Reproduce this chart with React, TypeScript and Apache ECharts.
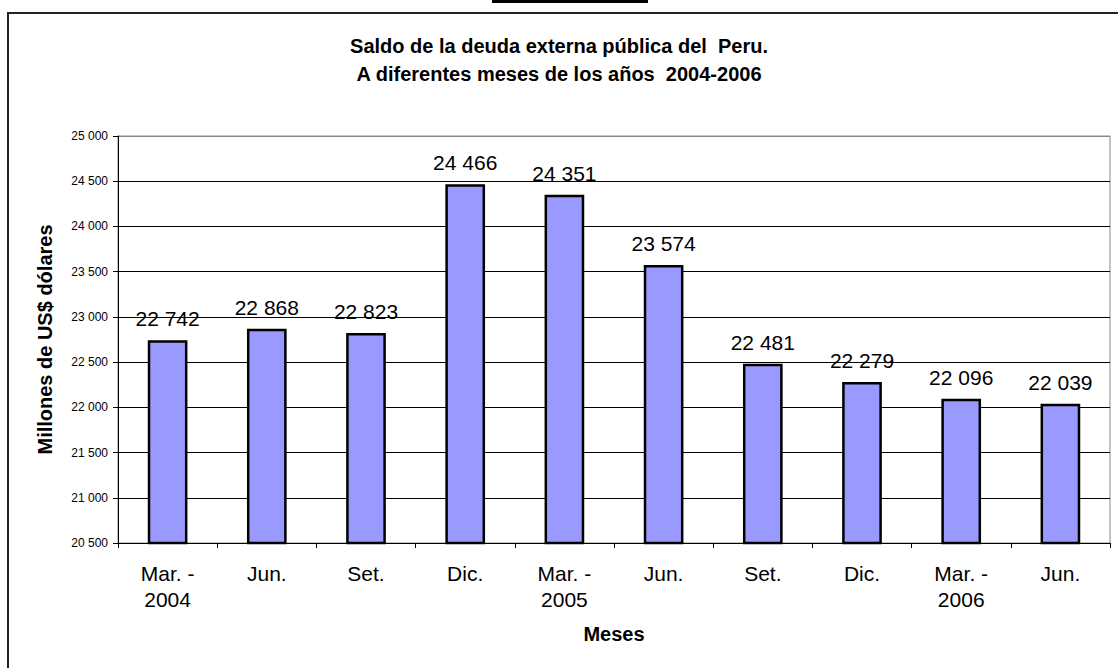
import React, { useEffect, useRef } from "react";
import * as echarts from "echarts";

const categories = [
  "Mar. -\n2004", "Jun.", "Set.", "Dic.", "Mar. -\n2005",
  "Jun.", "Set.", "Dic.", "Mar. -\n2006", "Jun.",
];
const values = [22742, 22868, 22823, 24466, 24351, 23574, 22481, 22279, 22096, 22039];
const titleLines = [
  "Saldo de la deuda externa pública del  Peru.",
  "A diferentes meses de los años  2004-2006",
];
const yName = "Millones de US$ dólares";
const xName = "Meses";

const fmt = (v: number) => String(v).replace(/\B(?=(\d{3})+(?!\d))/g, " ");

export default function App() {
  const ref = useRef<HTMLDivElement>(null);
  useEffect(() => {
    if (!ref.current) return;
    const chart = echarts.init(ref.current, null, { renderer: "svg" });
    const font = "Arial, 'Liberation Sans', sans-serif";
    chart.setOption({
      animation: false,
      backgroundColor: "#fff",
      textStyle: { fontFamily: font },
      title: {
        text: titleLines.join("\n"),
        left: "center",
        top: 27,
        textStyle: { fontFamily: font, fontSize: 20, fontWeight: "bold", color: "#000", lineHeight: 28 },
      },
      grid: { left: 118, right: 8, top: 136, bottom: 125, show: true, borderColor: "#888", borderWidth: 1 },
      xAxis: {
        type: "category",
        data: categories,
        name: xName,
        nameLocation: "middle",
        nameGap: 81,
        nameTextStyle: { fontFamily: font, fontSize: 20, fontWeight: "bold", color: "#000" },
        axisLine: { lineStyle: { color: "#000", width: 1 } },
        axisTick: { show: true, length: 5, lineStyle: { color: "#000" } },
        axisLabel: { fontFamily: font, fontSize: 21, color: "#000", margin: 17, lineHeight: 26, interval: 0 },
      },
      yAxis: {
        type: "value",
        min: 20500,
        max: 25000,
        interval: 500,
        name: yName,
        nameLocation: "middle",
        nameGap: 63,
        nameRotate: 90,
        nameTextStyle: { fontFamily: font, fontSize: 20, fontWeight: "bold", color: "#000" },
        axisLine: { show: true, lineStyle: { color: "#000", width: 1 } },
        axisTick: { show: true, length: 5, lineStyle: { color: "#000" } },
        axisLabel: { fontFamily: font, fontSize: 12, color: "#000", margin: 10, formatter: (v: number) => fmt(v) },
        splitLine: {
          show: true,
          lineStyle: { color: ["#000", "#000", "#000", "#000", "#000", "#000", "#000", "#000", "#000", "#888"], width: 1 },
        },
      },
      series: [
        {
          type: "bar",
          data: values,
          barWidth: "40%",
          itemStyle: { color: "#9999FF", borderColor: "#000", borderWidth: 2.5 },
          label: {
            show: true,
            position: "top",
            distance: 11,
            fontFamily: font,
            fontSize: 21,
            color: "#000",
            formatter: (p: any) => fmt(p.value),
          },
        },
      ],
      graphic: [
        { type: "rect", shape: { x: 8, y: 13, width: 1130, height: 700 }, style: { fill: "none", stroke: "#222", lineWidth: 2 }, silent: true },
        { type: "rect", shape: { x: 492, y: 0, width: 156, height: 3 }, style: { fill: "#000" }, silent: true },
      ],
    });
    return () => chart.dispose();
  }, []);
  return (
    <div
      ref={ref}
      style={{ position: "fixed", left: 0, top: 0, width: 1118, height: 668 }}
    />
  );
}
